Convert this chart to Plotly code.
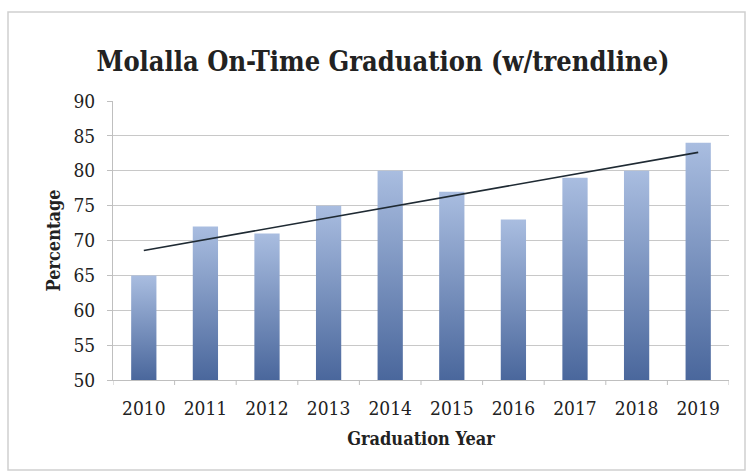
import numpy as np
import plotly.graph_objects as go

years = ["2010", "2011", "2012", "2013", "2014", "2015", "2016", "2017", "2018", "2019"]
rates = [65, 72, 71, 75, 80, 77, 73, 79, 80, 84]
y_ticks = [50, 55, 60, 65, 70, 75, 80, 85, 90]

W, H = 751, 476
L, R, T, B = 113, 22, 101, 96
FONT = "DejaVu Serif Condensed"

fig = go.Figure()
half = 0.205
base = 50
for i, v in enumerate(rates):
    fig.add_trace(go.Scatter(
        x=[i - half, i + half, i + half, i - half, i - half],
        y=[base, base, v, v, base],
        mode="lines", line=dict(width=0), fill="toself",
        fillgradient=dict(type="vertical",
                          colorscale=[[0, "#4a679c"], [1, "#a9bde0"]]),
        hoverinfo="skip", showlegend=False))

# linear trendline (least squares over the data)
xi = np.arange(len(rates))
slope, intercept = np.polyfit(xi, rates, 1)
fig.add_trace(go.Scatter(x=[xi[0], xi[-1]], y=[intercept, intercept + slope * xi[-1]],
                         mode="lines", line=dict(color="#1f2a33", width=1.6),
                         showlegend=False, hoverinfo="skip"))

pw = W - L - R
ph = H - T - B
def px(xp): return (xp - L) / pw
def py(yp): return (H - B - yp) / ph

fig.update_layout(
    width=W, height=H,
    margin=dict(l=L, r=R, t=T, b=B, autoexpand=False),
    paper_bgcolor="white", plot_bgcolor="white",
    title=dict(text="<b>Molalla On-Time Graduation (w/trendline)</b>",
               x=px(383), xref="paper", xanchor="center",
               y=1 - 62 / H, yanchor="middle", automargin=False,
               font=dict(family=FONT, size=27, color="#222222")),
    font=dict(family=FONT, size=19, color="#222222"),
    xaxis=dict(range=[-0.5, 9.5], tickmode="array", tickvals=list(range(10)),
               ticktext=years, showgrid=False, zeroline=False, automargin=False,
               showline=True, linecolor="#bfbfbf", linewidth=1,
               ticks="", tickfont=dict(size=19), ticklabelstandoff=11,
               title=dict(text="<b>Graduation Year</b>", font=dict(size=18), standoff=14)),
    yaxis=dict(range=[50, 90], tickmode="array", tickvals=y_ticks, automargin=False,
               showgrid=True, gridcolor="#c8c8c8", gridwidth=1, zeroline=False,
               showline=True, linecolor="#bfbfbf", linewidth=1,
               ticks="outside", ticklen=5, tickcolor="#bfbfbf",
               tickfont=dict(size=19), ticklabelstandoff=8,
               title=dict(text="<b>Percentage</b>", font=dict(size=18), standoff=8)),
)

# minor category separator ticks on x axis
for k in range(11):
    fig.add_shape(type="line", xref="x", yref="paper", x0=k - 0.5, x1=k - 0.5,
                  y0=0, y1=-5 / ph, line=dict(color="#bfbfbf", width=1))

# outer chart border
fig.add_shape(type="rect", xref="paper", yref="paper",
              x0=px(8), x1=px(745), y0=py(470), y1=py(12),
              line=dict(color="#d0d0d0", width=1.5), layer="below")

fig.write_html("out.html", config={"displayModeBar": False},
               post_script="document.body.style.margin='0';")
